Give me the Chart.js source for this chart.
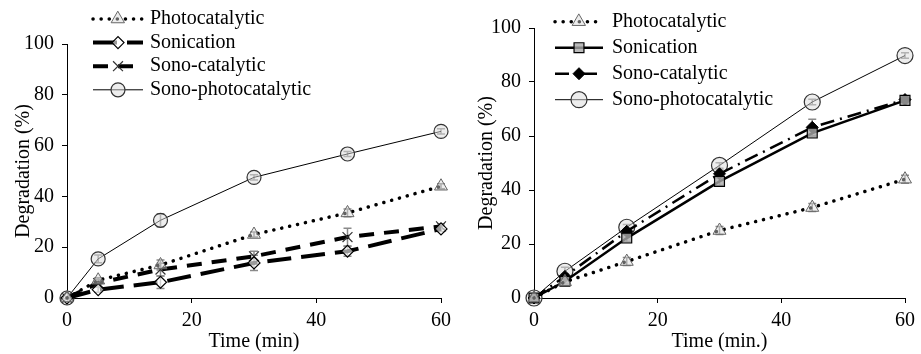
<!DOCTYPE html>
<html>
<head>
<meta charset="utf-8">
<script src="https://cdn.jsdelivr.net/npm/chart.js@4.4.0/dist/chart.umd.min.js"></script>
<style>
  html, body { margin: 0; padding: 0; background: #fff; }
  #wrap { position: relative; width: 921px; height: 354px; }
  #leftChart { position: absolute; left: 0; top: 0; }
  #rightChart { position: absolute; left: 460px; top: 0; }
</style>
</head>
<body>
<div id="wrap">
  <canvas id="leftChart" width="460" height="354"></canvas>
  <canvas id="rightChart" width="461" height="354"></canvas>
</div>
<script>
// sampling times (min)
const times = [0, 5, 15, 30, 45, 60];
const seriesNames = ["Photocatalytic", "Sonication", "Sono-catalytic", "Sono-photocatalytic"];
const xTicks = [0, 20, 40, 60];
const yTicks = [0, 20, 40, 60, 80, 100];

// left panel, degradation (%)
const leftPhoto = [0, 7, 13, 25, 33.5, 44];
const leftSonic = [0, 3.3, 6.2, 13.8, 18.4, 27.2];
const leftSonoCat = [0, 5.9, 11.2, 16.4, 24, 28.2];
const leftSonoPhoto = [0, 15.4, 30.6, 47.5, 56.7, 65.6];
const leftPhotoErr = [0, 1, 2, 1, 1.5, 1];
const leftSonicErr = [0, 1, 2.5, 3, 2, 1];
const leftSonoCatErr = [0, 1.5, 2.5, 2, 3.5, 1];
const leftSonoPhotoErr = [0, 1.5, 2.5, 1, 1, 1];

// right panel, degradation (%)
const rightPhoto = [0, 6, 13.5, 25, 33.5, 44];
const rightSonic = [0, 6.2, 22.2, 43.2, 61.1, 73.2];
const rightSonoCat = [0, 8, 24.7, 46, 63.2, 73.5];
const rightSonoPhoto = [0, 9.9, 26.2, 49.1, 72.6, 89.8];
const rightPhotoErr = [0, 1, 1.5, 1.5, 1.5, 1.5];
const rightSonicErr = [0, 1, 1.5, 1.5, 1.5, 1];
const rightSonoCatErr = [0, 1, 1, 1.5, 3, 1];
const rightSonoPhotoErr = [0, 1.5, 1, 1, 1, 1];

const FONT = "'Liberation Serif', 'Times New Roman', serif";

function pts(vals) {
  return times.map((t, i) => ({ x: t, y: vals[i] }));
}

// grey error bars drawn through the chart scales
const errorBars = {
  id: 'errorBars',
  beforeDatasetsDraw(chart) {
    const ctx = chart.ctx;
    const xs = chart.scales.x, ys = chart.scales.y;
    ctx.save();
    ctx.strokeStyle = '#8a8a8a';
    ctx.lineWidth = 1.5;
    chart.data.datasets.forEach(ds => {
      if (!ds.errors) return;
      ds.data.forEach((p, i) => {
        const e = ds.errors[i];
        if (!e) return;
        const x = xs.getPixelForValue(p.x);
        const y1 = ys.getPixelForValue(p.y - e);
        const y2 = ys.getPixelForValue(p.y + e);
        ctx.beginPath();
        ctx.moveTo(x, y1); ctx.lineTo(x, y2);
        ctx.moveTo(x - 4, y1); ctx.lineTo(x + 4, y1);
        ctx.moveTo(x - 4, y2); ctx.lineTo(x + 4, y2);
        ctx.stroke();
      });
    });
    ctx.restore();
  }
};

// legend with line sample and marker, like the original figure
const lineLegend = {
  id: 'lineLegend',
  afterDraw(chart, args, opts) {
    const ctx = chart.ctx;
    chart.data.datasets.forEach((ds, i) => {
      const y = opts.top + i * opts.rowGap;
      ctx.save();
      ctx.strokeStyle = ds.borderColor;
      ctx.lineWidth = ds.borderWidth;
      ctx.lineCap = ds.borderCapStyle || 'butt';
      ctx.setLineDash(ds.borderDash || []);
      ctx.beginPath();
      ctx.moveTo(opts.lineStart, y);
      ctx.lineTo(opts.lineEnd, y);
      ctx.stroke();
      ctx.setLineDash([]);
      ctx.fillStyle = ds.pointBackgroundColor;
      ctx.strokeStyle = ds.pointBorderColor;
      ctx.lineWidth = ds.pointBorderWidth;
      Chart.helpers.drawPoint(ctx, {
        pointStyle: ds.pointStyle,
        radius: ds.pointRadius,
        rotation: 0,
        borderWidth: ds.pointBorderWidth
      }, (opts.lineStart + opts.lineEnd) / 2, y);
      ctx.fillStyle = '#000';
      ctx.font = '20px ' + FONT;
      ctx.textBaseline = 'middle';
      ctx.fillText(ds.label, opts.textX, y);
      ctx.restore();
    });
  }
};

function axes(yTitlePad) {
  const tickFont = { family: FONT, size: 20 };
  return {
    x: {
      type: 'linear', min: 0, max: 60,
      afterBuildTicks: s => { s.ticks = xTicks.map(v => ({ value: v })); },
      afterFit: s => { s.height = 56; },
      grid: { drawOnChartArea: false, drawTicks: true, tickLength: 5, color: '#000' },
      border: { color: '#000', width: 1 },
      ticks: { color: '#000', font: tickFont, padding: 6, maxRotation: 0 },
      title: { display: true, color: '#000', font: tickFont, padding: { top: 0, bottom: 0 } }
    },
    y: {
      type: 'linear', min: 0, max: 100,
      afterBuildTicks: s => { s.ticks = yTicks.map(v => ({ value: v })); },
      grid: { drawOnChartArea: false, drawTicks: true, tickLength: 5, color: '#000' },
      border: { color: '#000', width: 1 },
      ticks: { color: '#000', font: tickFont, padding: 8 },
      title: { display: true, text: 'Degradation (%)', color: '#000', font: tickFont, padding: { top: yTitlePad, bottom: 0 } }
    }
  };
}

const dotted = { borderDash: [0.1, 8], borderCapStyle: 'round', borderWidth: 3.5 };
const triangle = {
  pointStyle: 'triangle', pointRadius: 7.5, pointBorderWidth: 1,
  pointBorderColor: '#666', pointBackgroundColor: 'rgba(215,215,215,0.45)'
};

// left panel
const leftScales = axes(12);
leftScales.x.title.text = 'Time (min)';
leftScales.y.afterFit = s => { s.width = 67; };
new Chart(document.getElementById('leftChart'), {
  type: 'line',
  data: {
    datasets: [
      Object.assign({
        label: seriesNames[0], data: pts(leftPhoto), errors: leftPhotoErr,
        borderColor: '#000'
      }, dotted, triangle),
      {
        label: seriesNames[1], data: pts(leftSonic), errors: leftSonicErr,
        borderColor: '#000', borderWidth: 4, borderDash: [24, 10],
        pointStyle: 'rectRot', pointRadius: 6, pointBorderWidth: 1.2,
        pointBorderColor: '#000', pointBackgroundColor: 'rgba(255,255,255,0.6)'
      },
      {
        label: seriesNames[2], data: pts(leftSonoCat), errors: leftSonoCatErr,
        borderColor: '#000', borderWidth: 4, borderDash: [15, 10],
        pointStyle: 'crossRot', pointRadius: 7, pointBorderWidth: 1.2,
        pointBorderColor: '#333', pointBackgroundColor: '#fff'
      },
      {
        label: seriesNames[3], data: pts(leftSonoPhoto), errors: leftSonoPhotoErr,
        borderColor: '#000', borderWidth: 1,
        pointStyle: 'circle', pointRadius: 7, pointBorderWidth: 1.2,
        pointBorderColor: '#333', pointBackgroundColor: 'rgba(220,220,220,0.5)'
      }
    ]
  },
  options: {
    responsive: false,
    animation: false,
    clip: false,
    layout: { padding: { left: 0, top: 44, right: 19, bottom: 0 } },
    scales: leftScales,
    plugins: {
      legend: { display: false },
      tooltip: { enabled: false },
      lineLegend: { top: 19, rowGap: 23.6, lineStart: 93, lineEnd: 143, textX: 150 }
    }
  },
  plugins: [errorBars, lineLegend]
});

// right panel
const rightScales = axes(15);
rightScales.x.title.text = 'Time (min.)';
rightScales.y.afterFit = s => { s.width = 74; };
new Chart(document.getElementById('rightChart'), {
  type: 'line',
  data: {
    datasets: [
      Object.assign({
        label: seriesNames[0], data: pts(rightPhoto), errors: rightPhotoErr,
        borderColor: '#000'
      }, dotted, triangle),
      {
        label: seriesNames[1], data: pts(rightSonic), errors: rightSonicErr,
        borderColor: '#000', borderWidth: 2.5,
        pointStyle: 'rect', pointRadius: 7, pointBorderWidth: 1.2,
        pointBorderColor: '#000', pointBackgroundColor: 'rgba(170,170,170,0.8)'
      },
      {
        label: seriesNames[2], data: pts(rightSonoCat), errors: rightSonoCatErr,
        borderColor: '#000', borderWidth: 2.5, borderDash: [14, 6, 2, 6],
        pointStyle: 'rectRot', pointRadius: 6, pointBorderWidth: 1,
        pointBorderColor: '#000', pointBackgroundColor: '#000'
      },
      {
        label: seriesNames[3], data: pts(rightSonoPhoto), errors: rightSonoPhotoErr,
        borderColor: '#000', borderWidth: 1,
        pointStyle: 'circle', pointRadius: 8, pointBorderWidth: 1.2,
        pointBorderColor: '#333', pointBackgroundColor: 'rgba(220,220,220,0.5)'
      }
    ]
  },
  options: {
    responsive: false,
    animation: false,
    clip: false,
    layout: { padding: { left: 0, top: 28, right: 11, bottom: 0 } },
    scales: rightScales,
    plugins: {
      legend: { display: false },
      tooltip: { enabled: false },
      lineLegend: { top: 21.7, rowGap: 26, lineStart: 95, lineEnd: 143, textX: 152 }
    }
  },
  plugins: [errorBars, lineLegend]
});
</script>
</body>
</html>
